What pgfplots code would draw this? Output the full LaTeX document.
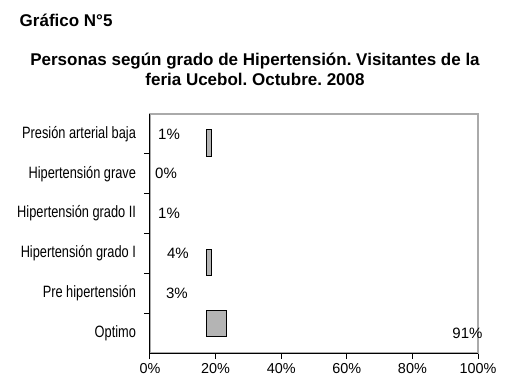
\documentclass[border=0pt]{standalone}
\usepackage{pgfplots}
\pgfplotsset{compat=1.18}
\usepackage{fontspec}
\setmainfont{Liberation Sans}
\newfontfamily\narrowfont[FakeStretch=0.78]{Liberation Sans}
\definecolor{barfill}{RGB}{180,180,180}
\definecolor{framegray}{RGB}{170,170,170}
\frenchspacing
\begin{document}
\frenchspacing
\begin{tikzpicture}[x=0.75pt,y=0.75pt]
\useasboundingbox (-150,-31) rectangle (355,353);
\begin{axis}[
  name=ax, at={(0,0)}, anchor=south west,
  scale only axis, width=246pt, height=179.25pt,
  xmin=0, xmax=100, ymin=-0.5, ymax=5.5,
  xbar stacked, bar width=0.67,
  axis line style={framegray, line width=1.2pt},
  xtick={0,20,40,60,80,100},
  xticklabels={0\%,20\%,40\%,60\%,80\%,100\%},
  ytick={0.5,1.5,2.5,3.5,4.5}, yticklabels={},
  extra y ticks={0,1,2,3,4,5},
  extra y tick labels={Optimo,Pre hipertensión,Hipertensión grado I,Hipertensión grado II,Hipertensión grave,Presión arterial baja},
  extra y tick style={major tick length=0pt},
  tick align=outside, major tick length=4.5pt,
  xtick pos=bottom, ytick pos=left,
  tick style={black, line width=0.75pt},
  x tick label style={font=\fontsize{10.8}{12}\selectfont},
  y tick label style={font=\narrowfont\fontsize{12.3}{14}\selectfont, xshift=-7pt},
  clip=false,
]
\addplot[draw=none, fill=none, forget plot] coordinates {(17.3,0.24) (17.3,1.77) (17.3,4.77)};
\addplot[draw=black, fill=barfill, line width=0.75pt] coordinates {(5.9,0.24) (1.3,1.77) (1.6,4.77)};
\draw[black, line width=0.75pt] (rel axis cs:0,1) -- (rel axis cs:0,0) -- (rel axis cs:1,0);
\node[font=\fontsize{11.25}{13}\selectfont] at (axis cs:5.8,5) {1\%};
\node[font=\fontsize{11.25}{13}\selectfont] at (axis cs:4.9,4) {0\%};
\node[font=\fontsize{11.25}{13}\selectfont] at (axis cs:5.8,3) {1\%};
\node[font=\fontsize{11.25}{13}\selectfont] at (axis cs:8.5,2) {4\%};
\node[font=\fontsize{11.25}{13}\selectfont] at (axis cs:8.2,1) {3\%};
\node[font=\fontsize{11.25}{13}\selectfont] at (axis cs:96.8,0) {91\%};
\end{axis}
\node[anchor=base west, font=\bfseries\fontsize{12.75}{15}\selectfont] at (-135,326) {Gráfico N°5};
\node[anchor=base, font=\bfseries\fontsize{12.75}{15}\selectfont] at (105,287) {Personas según grado de Hipertensión. Visitantes de la};
\node[anchor=base, font=\bfseries\fontsize{12.75}{15}\selectfont] at (105,267) {feria Ucebol. Octubre. 2008};
\end{tikzpicture}
\end{document}
